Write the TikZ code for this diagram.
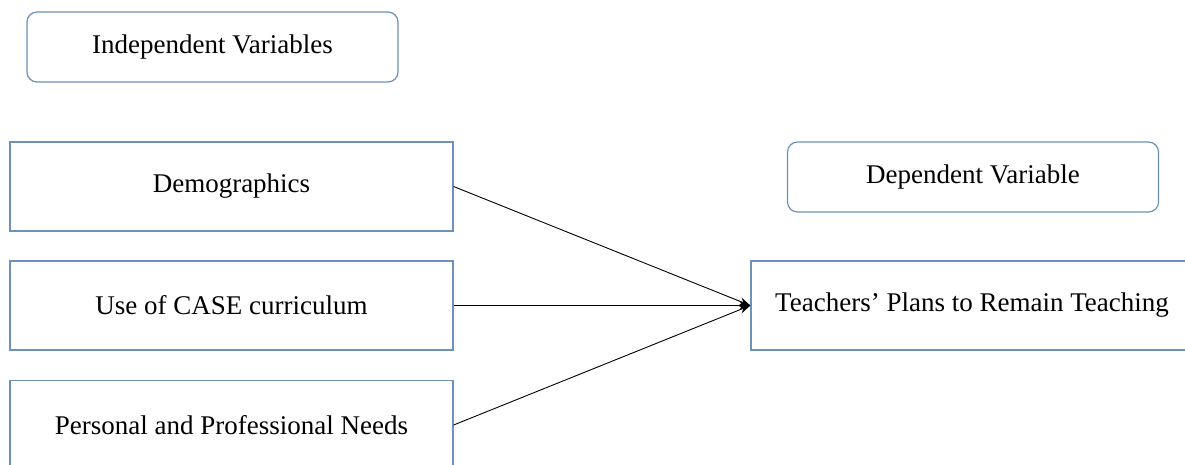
\documentclass[tikz,border=0pt]{standalone}
\usepackage{fontspec}
\setmainfont{Liberation Serif}
\usetikzlibrary{arrows.meta}
\definecolor{boxblue}{RGB}{110,145,185}
\begin{document}
\begin{tikzpicture}[x=1pt,y=-1pt,
  varbox/.style={draw=boxblue,line width=1.2pt,fill=white,inner sep=0pt,
    font=\fontsize{27}{31}\selectfont,text=black},
  headbox/.style={varbox,rounded corners=10pt,minimum width=371pt,minimum height=70pt},
  ivbox/.style={varbox,minimum width=443pt,minimum height=89pt},
  link/.style={draw=black,line width=0.9pt,-{Stealth[length=11pt,width=8pt]}}]
\clip (0,0) rectangle (1185,464);
\fill[white] (0,0) rectangle (1185,464);
\node[headbox] (iv) at (212.5,47) {Independent Variables};
\node[headbox] (dv) at (973,177) {Dependent Variable};
\node[ivbox] (demo) at (231.5,186.5) {Demographics};
\node[ivbox] (case) at (231.5,305.5) {Use of CASE curriculum};
\node[ivbox] (need) at (231.5,425) {Personal and Professional Needs};
\node[varbox,minimum width=442pt,minimum height=89pt] (tp) at (972,305.5) {Teachers’ Plans to Remain Teaching};
\draw[link] (demo.east) -- (tp.west);
\draw[link] (case.east) -- (tp.west);
\draw[link] (need.east) -- (tp.west);
\end{tikzpicture}
\end{document}
